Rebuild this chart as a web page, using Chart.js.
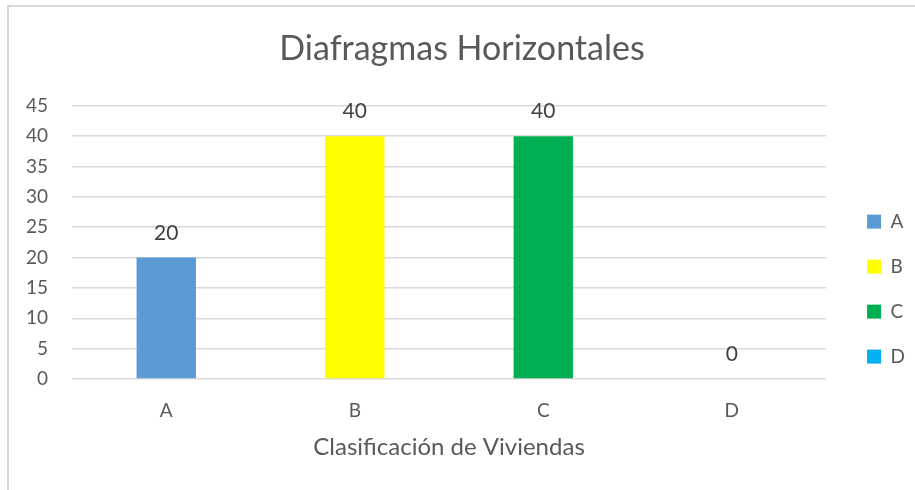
<!DOCTYPE html>
<html lang="es">
<head>
  <meta charset="UTF-8" />
  <title>Diafragmas Horizontales</title>
  <script src="https://cdn.jsdelivr.net/npm/chart.js"></script>
  <style>
    body {
      margin: 0;
      background: #fff;
      font-family: Lato, sans-serif;
    }
    .frame {
      position: absolute;
      left: 7px;
      top: 5px;
      width: 908px;
      height: 485px;
      border-left: 2px solid #d9d9d9;
      border-top: 2px solid #d9d9d9;
    }
  </style>
</head>
<body>
  <div class="frame">
    <canvas id="chart" width="906" height="483"></canvas>
  </div>

  <script>
    const categories = ["A", "B", "C", "D"];
    const values = [20, 40, 40, 0];
    const barColors = ["#5b9bd5", "#ffff00", "#00b050", "#00b0f0"];
    const yTicks = { min: 0, max: 45, step: 5 };

    const textColor = "#595959";

    // etiquetas de valor encima de cada barra
    const valueLabels = {
      id: "valueLabels",
      afterDatasetsDraw(chart) {
        const ctx = chart.ctx;
        const meta = chart.getDatasetMeta(0);
        ctx.save();
        ctx.font = "21px Lato, sans-serif";
        ctx.fillStyle = "#404040";
        ctx.textAlign = "center";
        ctx.textBaseline = "alphabetic";
        meta.data.forEach((bar, i) => {
          ctx.fillText(values[i], bar.x, bar.y - 18);
        });
        ctx.restore();
      }
    };

    new Chart(document.getElementById("chart"), {
      type: "bar",
      data: {
        labels: categories,
        datasets: [{
          data: values,
          backgroundColor: barColors,
          barPercentage: 1,
          categoryPercentage: 0.315
        }]
      },
      options: {
        responsive: false,
        animation: false,
        layout: { padding: { left: 0, right: 0, top: 0, bottom: 28 } },
        plugins: {
          title: {
            display: true,
            text: "Diafragmas Horizontales",
            color: textColor,
            font: { family: "Lato", size: 34, weight: "normal" },
            padding: { top: 22, bottom: 36 }
          },
          legend: {
            position: "right",
            title: { display: true, text: " ", font: { size: 1 }, padding: { top: 108, bottom: 0 } },
            labels: {
              color: textColor,
              font: { family: "Lato", size: 19 },
              boxWidth: 14,
              boxHeight: 14,
              padding: 26,
              generateLabels: () => categories.map((c, i) => ({
                text: c,
                fillStyle: barColors[i],
                strokeStyle: barColors[i],
                lineWidth: 0,
                fontColor: textColor,
                index: i
              }))
            }
          },
          tooltip: { enabled: false }
        },
        scales: {
          x: {
            afterFit: s => { s.height = 83; },
            grid: { display: false, drawTicks: false },
            border: { display: false },
            ticks: { color: textColor, font: { family: "Lato", size: 19 }, padding: 20 },
            title: {
              display: true,
              text: "Clasificación de Viviendas",
              color: textColor,
              font: { family: "Lato", size: 24 },
              padding: { top: 12, bottom: 0 }
            }
          },
          y: {
            min: yTicks.min,
            max: yTicks.max,
            afterFit: s => { s.width = 63; },
            ticks: { stepSize: yTicks.step, color: textColor, font: { family: "Lato", size: 19 }, padding: 24 },
            grid: { color: "#d9d9d9", lineWidth: 1.5, drawTicks: false },
            border: { display: false }
          },
          // eje vacío: solo deja hueco entre el área y la leyenda
          gap: {
            position: "right",
            display: true,
            grid: { display: false },
            border: { display: false },
            ticks: { display: false },
            afterFit: s => { s.width = 15; }
          }
        }
      },
      plugins: [valueLabels]
    });
  </script>
</body>
</html>
